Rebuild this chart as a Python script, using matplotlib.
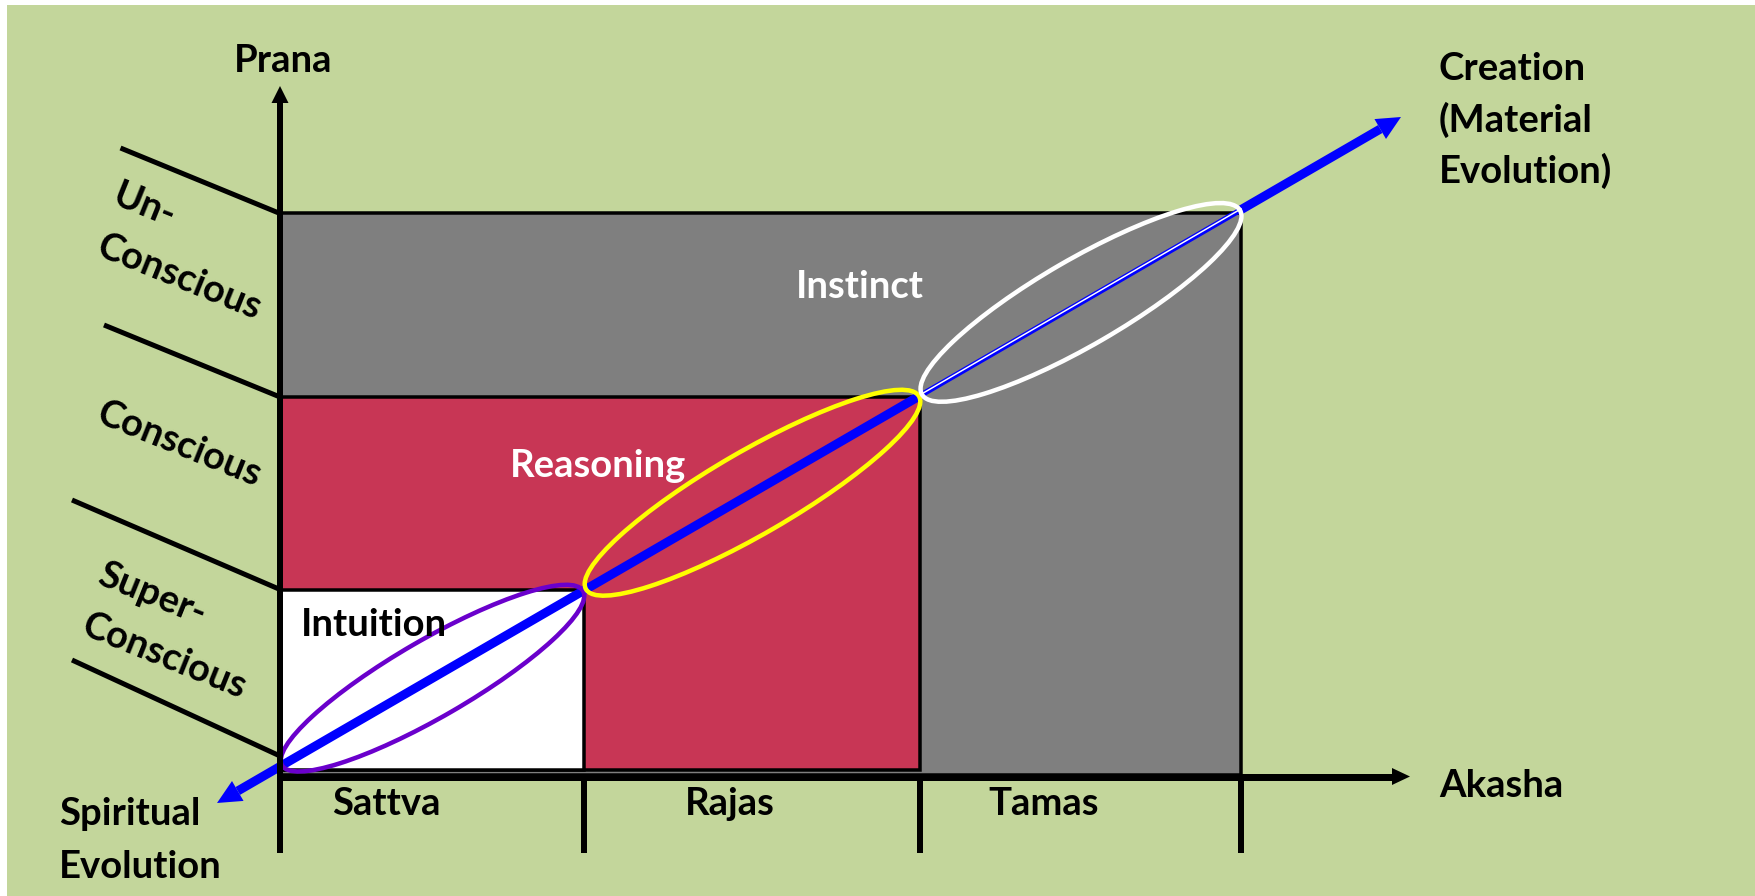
import numpy as np
import matplotlib.pyplot as plt
from matplotlib.patches import Rectangle, Ellipse, Polygon

# diagram values: 1 unit = 100 px, origin where Prana meets Akasha
gunas = ["Sattva", "Rajas", "Tamas"]
guna_bounds = [0.0, 3.04, 6.40, 9.61]
states = ["Super-\nConscious", "Conscious", "Un-\nConscious"]
state_tops = [1.875, 3.80, 5.635]
faculties = ["Intuition", "Reasoning", "Instinct"]
faculty_colors = ["#FFFFFF", "#C83655", "#7F7F7F"]
faculty_text = ["black", "white", "white"]
ring_colors = ["#6A00CC", "#FFFF00", "#FFFFFF"]
ring_widths = [0.77, 0.83, 0.86]
spirit_tip = np.array([-0.63, -0.26])
creation_tip = np.array([11.21, 6.60])

FONT = ["Lato", "DejaVu Sans"]
FS = 27.5
BG = "#C3D69B"


def px(v):
    # pixels -> points at dpi 100
    return v * 0.72


def head(ax, tip, direction, length, width, color):
    u = np.asarray(direction, float)
    u = u / np.hypot(*u)
    n = np.array([-u[1], u[0]])
    base = tip - u * length
    tri = Polygon([tip, base + n * width / 2, base - n * width / 2],
                  closed=True, color=color, lw=0, zorder=6)
    ax.add_patch(tri)
    return base


def label(ax, x, y, s, **kw):
    ax.text(x, y, s, fontsize=FS, fontweight="bold", family=FONT, **kw)


fig = plt.figure(figsize=(17.56, 8.96), dpi=100)
fig.patch.set_facecolor("white")
ax = fig.add_axes([0, 0, 1, 1])
ax.set_xlim(-2.80, 14.76)
ax.set_ylim(-1.19, 7.77)
ax.axis("off")

ax.add_patch(Rectangle((-2.73, -1.19), 17.49, 8.91, color=BG, lw=0, zorder=0))

# stacked regions (drawn largest first)
bottoms = [0.07, 0.07, 0.02]
for i in [2, 1, 0]:
    ax.add_patch(Rectangle((0, bottoms[i]), guna_bounds[i + 1], state_tops[i] - bottoms[i],
                           facecolor=faculty_colors[i], edgecolor="black",
                           lw=px(3.5), zorder=2 + (2 - i) * 0.1))

# axes
ax.plot([0, 0], [-0.76, 6.75], color="black", lw=px(6), solid_capstyle="butt", zorder=5)
head(ax, np.array([0, 6.91]), (0, 1), 0.17, 0.17, "black")
ax.plot([-0.03, 11.13], [0.005, 0.005], color="black", lw=px(7), solid_capstyle="butt", zorder=5)
head(ax, np.array([11.30, 0.005]), (1, 0), 0.18, 0.17, "black")
for gx in guna_bounds[1:]:
    ax.plot([gx, gx], [0.005, -0.76], color="black", lw=px(6), solid_capstyle="butt", zorder=5)

# separators on the left
seps = [((-2.08, 1.17), 0.21), ((-2.08, 2.77), state_tops[0]),
        ((-1.76, 4.52), state_tops[1]), ((-1.595, 6.29), state_tops[2])]
for (lx, ly), ry in seps:
    ax.plot([lx, 0], [ly, ry], color="black", lw=px(5), solid_capstyle="butt", zorder=5)

# rotated state labels
state_pos = [[(-1.28, 1.83), (-1.16, 1.21)],
             [(-1.01, 3.33)],
             [(-1.36, 5.71), (-1.01, 5.00)]]
for s, pos in zip(states, state_pos):
    for line, (x, y) in zip(s.split("\n"), pos):
        label(ax, x, y, line, rotation=-22, rotation_mode="anchor",
              ha="center", va="center", color="black", zorder=7)

# guna labels
guna_x = [0.517, 4.05, 7.08]
for g, x in zip(gunas, guna_x):
    label(ax, x, -0.375, g, ha="left", va="baseline", zorder=7)

# faculty labels
fac_pos = [(0.207, 1.41), (2.30, 3.00), (5.16, 4.79)]
for f, (x, y), c in zip(faculties, fac_pos, faculty_text):
    label(ax, x, y, f, ha="left", va="baseline", color=c, zorder=7)

label(ax, 0.03, 7.05, "Prana", ha="center", va="baseline")
label(ax, 11.59, -0.197, "Akasha", ha="left", va="baseline")
for txt, y in zip(["Spiritual", "Evolution"], [-0.48, -1.01]):
    label(ax, -2.21, y, txt, ha="left", va="baseline")
for txt, y in zip(["Creation", "(Material", "Evolution)"], [6.97, 6.453, 5.937]):
    label(ax, 11.59, y, txt, ha="left", va="baseline")

# evolution line through the region corners
d = creation_tip - spirit_tip
slope = d[1] / d[0]


def on_line(x):
    return np.array([x, spirit_tip[1] + (x - spirit_tip[0]) * slope])


b0 = head(ax, spirit_tip, -d, 0.24, 0.23, "blue")
b1 = head(ax, creation_tip, d, 0.24, 0.23, "blue")
w0, w1 = on_line(guna_bounds[2]), on_line(guna_bounds[3])
ax.plot([b0[0], w0[0]], [b0[1], w0[1]], color="blue", lw=px(9), solid_capstyle="butt", zorder=4)
ax.plot([w0[0], w1[0]], [w0[1], w1[1]], color="blue", lw=px(5.5), solid_capstyle="butt", zorder=4)
ax.plot([w0[0], w1[0]], [w0[1] + 0.008, w1[1] + 0.008], color="white", lw=px(1.5), zorder=4.1)
ax.plot([w1[0], b1[0]], [w1[1], b1[1]], color="blue", lw=px(9), solid_capstyle="butt", zorder=4)

# rings around each stage
for i in range(3):
    p = on_line(guna_bounds[i] + 0.02)
    q = on_line(guna_bounds[i + 1] - 0.01)
    c = (p + q) / 2
    L = np.hypot(*(q - p))
    ang = np.degrees(np.arctan2(q[1] - p[1], q[0] - p[0]))
    ax.add_patch(Ellipse(c, L, ring_widths[i], angle=ang, fill=False,
                         edgecolor=ring_colors[i], lw=px(4.5), zorder=4.5))

fig.savefig("out.png", dpi=100, facecolor=fig.get_facecolor())
